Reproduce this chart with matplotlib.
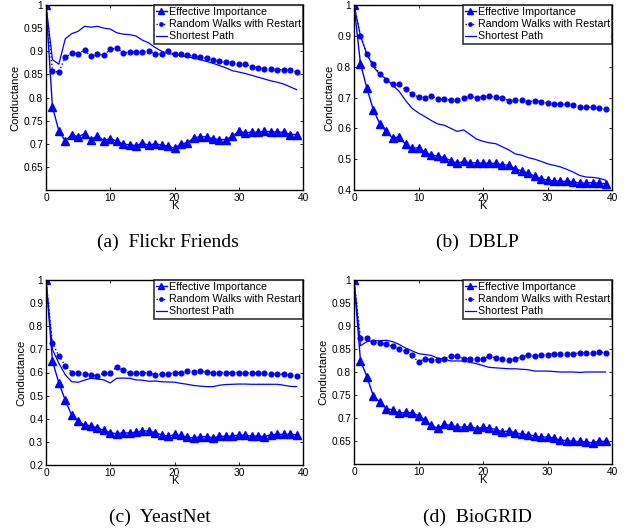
import numpy as np
import matplotlib
matplotlib.use("Agg")
import matplotlib.pyplot as plt

K = list(range(40))

ei_a = [1.0,0.78,0.728,0.706,0.72,0.715,0.722,0.709,0.717,0.707,0.711,0.706,0.699,0.698,0.696,0.701,0.697,0.7,0.697,0.695,
        0.69,0.7,0.702,0.713,0.715,0.715,0.711,0.709,0.709,0.716,0.727,0.724,0.725,0.725,0.727,0.726,0.725,0.725,0.72,0.72]
rwr_a = [1.0,0.857,0.855,0.887,0.896,0.895,0.902,0.889,0.893,0.892,0.904,0.907,0.896,0.898,0.899,0.899,0.9,0.895,0.893,0.9,
         0.893,0.893,0.892,0.889,0.887,0.885,0.881,0.878,0.876,0.874,0.873,0.873,0.866,0.864,0.861,0.861,0.86,0.86,0.86,0.855]
sp_a = [1.0,0.882,0.872,0.927,0.938,0.943,0.954,0.952,0.954,0.95,0.948,0.94,0.937,0.936,0.933,0.924,0.918,0.908,0.9,0.895,
        0.893,0.89,0.888,0.885,0.882,0.878,0.874,0.869,0.864,0.858,0.855,0.852,0.848,0.844,0.84,0.836,0.833,0.829,0.823,0.817]

ei_b = [1.0,0.81,0.73,0.66,0.615,0.59,0.568,0.573,0.548,0.535,0.537,0.523,0.513,0.51,0.505,0.495,0.487,0.493,0.488,0.488,
        0.487,0.487,0.486,0.482,0.48,0.468,0.462,0.455,0.445,0.436,0.432,0.43,0.428,0.428,0.427,0.422,0.423,0.424,0.422,0.42]
rwr_b = [1.0,0.9,0.84,0.81,0.775,0.757,0.745,0.743,0.726,0.712,0.701,0.7,0.704,0.695,0.694,0.692,0.693,0.7,0.704,0.699,
         0.703,0.704,0.701,0.698,0.69,0.692,0.693,0.686,0.689,0.687,0.682,0.679,0.678,0.678,0.676,0.67,0.668,0.669,0.665,0.662]
sp_b = [1.0,0.9,0.84,0.8,0.775,0.76,0.74,0.72,0.69,0.665,0.65,0.638,0.625,0.614,0.61,0.6,0.59,0.595,0.58,0.565,
        0.558,0.553,0.55,0.54,0.53,0.517,0.513,0.505,0.5,0.493,0.485,0.48,0.475,0.467,0.458,0.447,0.442,0.441,0.438,0.432]

ei_c = [1.0,0.65,0.555,0.48,0.415,0.39,0.373,0.37,0.36,0.35,0.34,0.335,0.34,0.338,0.342,0.347,0.347,0.34,0.33,0.324,
        0.332,0.328,0.32,0.317,0.323,0.322,0.318,0.324,0.324,0.325,0.33,0.328,0.325,0.325,0.323,0.33,0.333,0.332,0.333,0.33]
rwr_c = [1.0,0.728,0.672,0.63,0.6,0.6,0.595,0.59,0.585,0.597,0.598,0.623,0.61,0.596,0.6,0.599,0.599,0.59,0.592,0.594,
         0.598,0.6,0.605,0.604,0.605,0.602,0.599,0.6,0.599,0.6,0.6,0.598,0.597,0.597,0.596,0.595,0.594,0.592,0.589,0.587]
sp_c = [1.0,0.7,0.64,0.59,0.56,0.558,0.567,0.575,0.572,0.568,0.555,0.575,0.576,0.575,0.568,0.567,0.562,0.563,0.56,0.559,
        0.558,0.553,0.549,0.544,0.541,0.539,0.539,0.545,0.548,0.549,0.55,0.55,0.549,0.549,0.549,0.549,0.549,0.545,0.54,0.539]

ei_d = [1.0,0.825,0.79,0.748,0.735,0.72,0.718,0.71,0.712,0.711,0.705,0.696,0.684,0.678,0.686,0.684,0.681,0.68,0.682,0.677,
        0.68,0.678,0.675,0.67,0.672,0.668,0.665,0.664,0.661,0.658,0.659,0.656,0.652,0.651,0.649,0.649,0.648,0.646,0.65,0.649]
rwr_d = [1.0,0.875,0.873,0.866,0.862,0.86,0.856,0.85,0.845,0.836,0.822,0.829,0.826,0.827,0.829,0.834,0.834,0.829,0.829,0.829,
         0.829,0.834,0.831,0.829,0.826,0.829,0.832,0.837,0.834,0.836,0.838,0.84,0.84,0.84,0.84,0.841,0.842,0.842,0.843,0.842]
sp_d = [1.0,0.857,0.866,0.868,0.868,0.869,0.866,0.86,0.852,0.846,0.84,0.838,0.836,0.83,0.828,0.824,0.824,0.824,0.821,0.818,
        0.814,0.81,0.809,0.808,0.807,0.807,0.806,0.805,0.802,0.802,0.802,0.801,0.8,0.8,0.8,0.799,0.8,0.8,0.8,0.8]

series_names = ["Effective Importance", "Random Walks with Restart", "Shortest Path"]
captions = ["(a)  Flickr Friends", "(b)  DBLP", "(c)  YeastNet", "(d)  BioGRID"]
ylims = [(0.6, 1.0), (0.4, 1.0), (0.2, 1.0), (0.6, 1.0)]
yticks = [[0.65, 0.7, 0.75, 0.8, 0.85, 0.9, 0.95, 1.0],
          [0.4, 0.5, 0.6, 0.7, 0.8, 0.9, 1.0],
          [0.2, 0.3, 0.4, 0.5, 0.6, 0.7, 0.8, 0.9, 1.0],
          [0.65, 0.7, 0.75, 0.8, 0.85, 0.9, 0.95, 1.0]]
ytick_labels = [["0.65", "0.7", "0.75", "0.8", "0.85", "0.9", "0.95", "1"],
                ["0.4", "0.5", "0.6", "0.7", "0.8", "0.9", "1"],
                ["0.2", "0.3", "0.4", "0.5", "0.6", "0.7", "0.8", "0.9", "1"],
                ["0.65", "0.7", "0.75", "0.8", "0.85", "0.9", "0.95", "1"]]
xticks = [0, 10, 20, 30, 40]
data = [(ei_a, rwr_a, sp_a), (ei_b, rwr_b, sp_b), (ei_c, rwr_c, sp_c), (ei_d, rwr_d, sp_d)]

W, H = 626, 529
fig = plt.figure(figsize=(W / 100, H / 100), dpi=100)
plt.rcParams['font.family'] = ['Liberation Sans', 'DejaVu Sans']

# axes boxes in pixels: (left, top, right, bottom)
boxes = [(46, 5, 303, 190), (354, 5, 612, 190), (46, 280, 303, 465), (354, 280, 612, 464)]
cap_pos = [(168, 242), (477, 242), (160, 517), (477, 517)]
blue = '#0000ff'
fs = 7.3

for i, (l, t, r, b) in enumerate(boxes):
    ax = fig.add_axes([l / W, 1 - b / H, (r - l) / W, (b - t) / H])
    ei, rwr, sp = data[i]
    ax.plot(K, ei, color=blue, lw=1.0, marker='^', ms=5.5, label=series_names[0])
    ax.plot(K, rwr, color=blue, lw=1.0, ls=':', marker='o', ms=3.4, label=series_names[1])
    ax.plot(K, sp, color=blue, lw=0.9, label=series_names[2])
    ax.set_xlim(0, 40)
    ax.set_ylim(*ylims[i])
    ax.set_xticks(xticks)
    ax.set_xticklabels([str(v) for v in xticks], fontsize=fs)
    ax.set_yticks(yticks[i])
    ax.set_yticklabels(ytick_labels[i], fontsize=fs)
    ax.tick_params(direction='in', length=2.5, width=0.6, top=True, right=True, pad=2)
    for s in ax.spines.values():
        s.set_linewidth(1.0)
    ax.set_xlabel('K', fontsize=fs + 0.7, labelpad=-1.0)
    ax.set_ylabel('Conductance', fontsize=fs + 0.7, labelpad=2)
    leg = ax.legend(loc='upper right', fontsize=7.7, handlelength=1.0, handletextpad=0.2,
                    borderpad=0.2, labelspacing=0.2, borderaxespad=0.0, fancybox=False,
                    markerscale=0.7, frameon=True)
    leg.get_frame().set_edgecolor('black')
    leg.get_frame().set_linewidth(1.2)
    cx, cy = cap_pos[i]
    fig.text(cx / W, 1 - cy / H, captions[i], ha='center', va='center',
             family=['Liberation Serif', 'DejaVu Serif'], fontsize=14)

fig.savefig('out.png', dpi=100)
